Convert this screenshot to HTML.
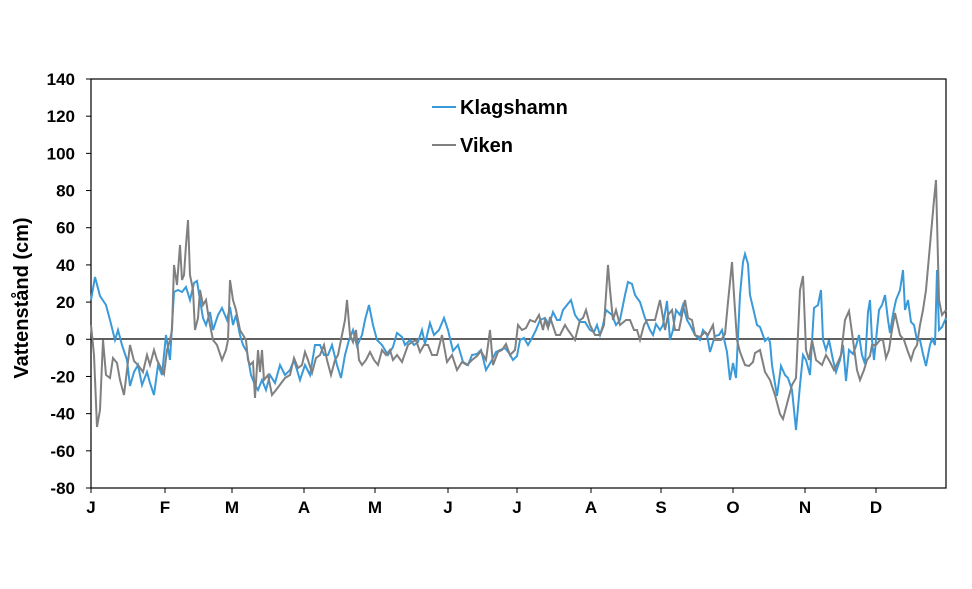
<!DOCTYPE html>
<html><head><meta charset="utf-8"><style>body{margin:0;background:#fff}svg{display:block}text{font-family:"Liberation Sans",Arial,sans-serif;font-weight:bold}</style></head>
<body>
<svg id="s" width="972" height="589" viewBox="0 0 972 589">
<rect x="91" y="79" width="855" height="409" fill="none" stroke="#000" stroke-width="1.2"/>
<line x1="91" y1="339" x2="946" y2="339" stroke="#000" stroke-width="1.2"/>
<g id="yt" font-size="17" text-anchor="end"></g>
<g id="xt" font-size="17" text-anchor="middle"></g>
<text x="28" y="298" font-size="20" text-anchor="middle" transform="rotate(-90 28 298)">Vattenstånd (cm)</text>
<polyline id="b" fill="none" stroke="#3a9ad9" stroke-width="2"/>
<polyline id="g" fill="none" stroke="#808080" stroke-width="2"/>
<line x1="432" y1="107" x2="456" y2="107" stroke="#3a9ad9" stroke-width="2"/>
<text x="460" y="114" font-size="20">Klagshamn</text>
<line x1="432" y1="145" x2="456" y2="145" stroke="#808080" stroke-width="2"/>
<text x="460" y="152" font-size="20">Viken</text>
</svg>
<script>
var NS="http://www.w3.org/2000/svg",yt=document.getElementById('yt'),xt=document.getElementById('xt');
for(var v=140,i=0;v>=-80;v-=20,i++){var y=79+i*409/11;var t=document.createElementNS(NS,'text');t.setAttribute('x',75);t.setAttribute('y',y+6);t.textContent=v;yt.appendChild(t);
var l=document.createElementNS(NS,'line');l.setAttribute('x1',86);l.setAttribute('x2',91);l.setAttribute('y1',y);l.setAttribute('y2',y);l.setAttribute('stroke','#000');yt.appendChild(l);}
var mx=[91,165,232,304,375,448,517,591,661,733,805,876],ml="JFMAMJJASOND";
for(var k=0;k<12;k++){var t=document.createElementNS(NS,'text');t.setAttribute('x',mx[k]);t.setAttribute('y',513);t.textContent=ml[k];xt.appendChild(t);
var l=document.createElementNS(NS,'line');l.setAttribute('x1',mx[k]);l.setAttribute('x2',mx[k]);l.setAttribute('y1',488);l.setAttribute('y2',493);l.setAttribute('stroke','#000');xt.appendChild(l);}
var B=[91,300,95,277,100,296,106,305,110,320,115,340,118,330,122,345,127,360,130,386,134,372,138,365,142,385,147,372,150,383,154,395,158,365,162,375,166,335,170,360,174,292,178,290,182,292,186,287,190,300,194,283,197,281,200,300,203,318,206,325,210,312,213,330,218,315,222,308,227,320,230,307,233,325,236,315,240,335,243,345,247,352,251,375,255,385,258,390,262,380,266,390,270,375,275,383,280,365,285,375,290,370,294,360,300,380,305,365,310,375,315,345,320,345,324,355,328,355,332,345,337,365,341,378,345,355,349,340,353,330,357,346,362,335,365,320,369,305,373,325,377,340,382,345,388,355,393,347,397,333,402,337,405,345,410,340,414,345,418,342,422,330,425,344,430,323,434,335,439,330,444,318,448,330,453,351,458,345,463,362,468,365,472,355,477,354,481,350,486,370,492,360,496,352,500,350,505,348,509,353,513,360,517,356,520,340,524,338,528,345,532,338,536,330,540,320,545,318,549,325,553,312,557,320,560,320,563,310,567,305,571,300,575,315,580,322,585,322,590,330,594,332,597,325,600,335,603,325,606,310,612,315,616,325,620,320,625,295,628,282,632,284,635,295,640,302,645,318,650,330,653,335,656,324,660,330,663,325,667,301,670,340,673,330,676,310,680,315,683,305,687,320,690,325,695,335,700,340,703,330,707,335,710,352,715,336,719,335,722,330,727,352,730,380,733,363,736,378,740,295,743,262,745,254,748,264,750,295,754,312,757,325,760,327,765,341,768,338,770,342,772,365,777,396,781,366,785,375,788,378,792,390,796,430,800,385,803,355,806,360,810,375,814,308,818,305,821,290,823,340,826,350,829,340,833,360,836,372,840,360,843,345,846,381,849,350,853,354,856,346,859,335,862,355,865,364,868,312,870,300,872,340,874,360,876,340,879,310,882,305,885,295,888,320,890,333,893,314,896,300,900,290,903,270,905,310,908,300,911,322,914,325,917,340,920,340,923,354,926,366,930,345,932,339,935,345,937,270,939,330,942,327,946,318];
var G=[91,325,94,355,97,427,100,410,103,340,106,375,110,378,113,358,117,363,120,380,124,395,127,370,130,345,134,361,138,365,143,372,147,355,150,365,154,350,157,360,160,366,164,374,167,350,170,340,172,330,174,265,177,285,180,245,182,280,184,275,186,245,188,220,190,275,193,290,195,330,198,318,200,290,203,305,206,300,209,320,213,340,217,345,222,360,226,350,228,340,230,280,233,300,236,310,240,330,243,335,246,340,248,360,250,365,253,362,255,398,258,350,260,372,262,350,264,380,268,375,272,395,276,390,282,382,285,378,290,375,294,358,298,368,302,365,305,352,308,360,312,373,316,358,320,355,324,345,327,360,331,375,335,360,338,355,342,335,345,320,347,300,350,335,353,342,356,330,359,360,362,365,366,360,370,352,374,360,378,365,382,350,386,355,390,350,393,360,397,355,402,362,408,345,412,342,416,340,420,352,424,345,428,345,432,355,437,355,442,335,447,362,452,355,457,370,462,362,467,365,472,360,477,356,481,351,486,360,490,330,493,365,498,352,502,350,506,344,510,355,515,350,518,325,522,330,526,328,530,320,535,322,539,315,543,330,545,320,548,328,550,317,556,335,560,335,565,325,568,330,575,340,580,320,583,318,586,310,590,325,595,335,600,335,604,325,608,265,610,290,613,320,616,310,620,325,626,320,630,320,634,330,637,330,640,340,644,325,647,320,652,320,655,320,660,300,665,330,668,315,672,310,675,330,679,330,685,300,688,318,692,320,695,335,700,337,705,332,708,335,713,325,715,340,721,340,725,334,728,302,732,262,734,295,737,340,740,352,745,365,749,366,753,362,755,353,760,350,765,372,770,380,775,395,780,414,783,419,788,400,792,385,796,378,800,290,803,276,806,350,809,360,812,340,816,360,822,365,826,355,830,362,834,370,838,362,841,355,845,320,849,311,853,340,857,370,860,380,864,370,867,360,870,356,872,345,876,345,880,340,883,340,886,358,889,350,892,330,895,313,900,335,904,340,908,352,911,360,914,350,917,345,920,325,923,310,926,290,930,245,934,200,936,180,939,300,942,315,946,310];
function pts(a){var s=[];for(var i=0;i<a.length;i+=2)s.push(a[i]+','+a[i+1]);return s.join(' ');}
document.getElementById('b').setAttribute('points',pts(B));
document.getElementById('g').setAttribute('points',pts(G));
</script>
</body></html>
